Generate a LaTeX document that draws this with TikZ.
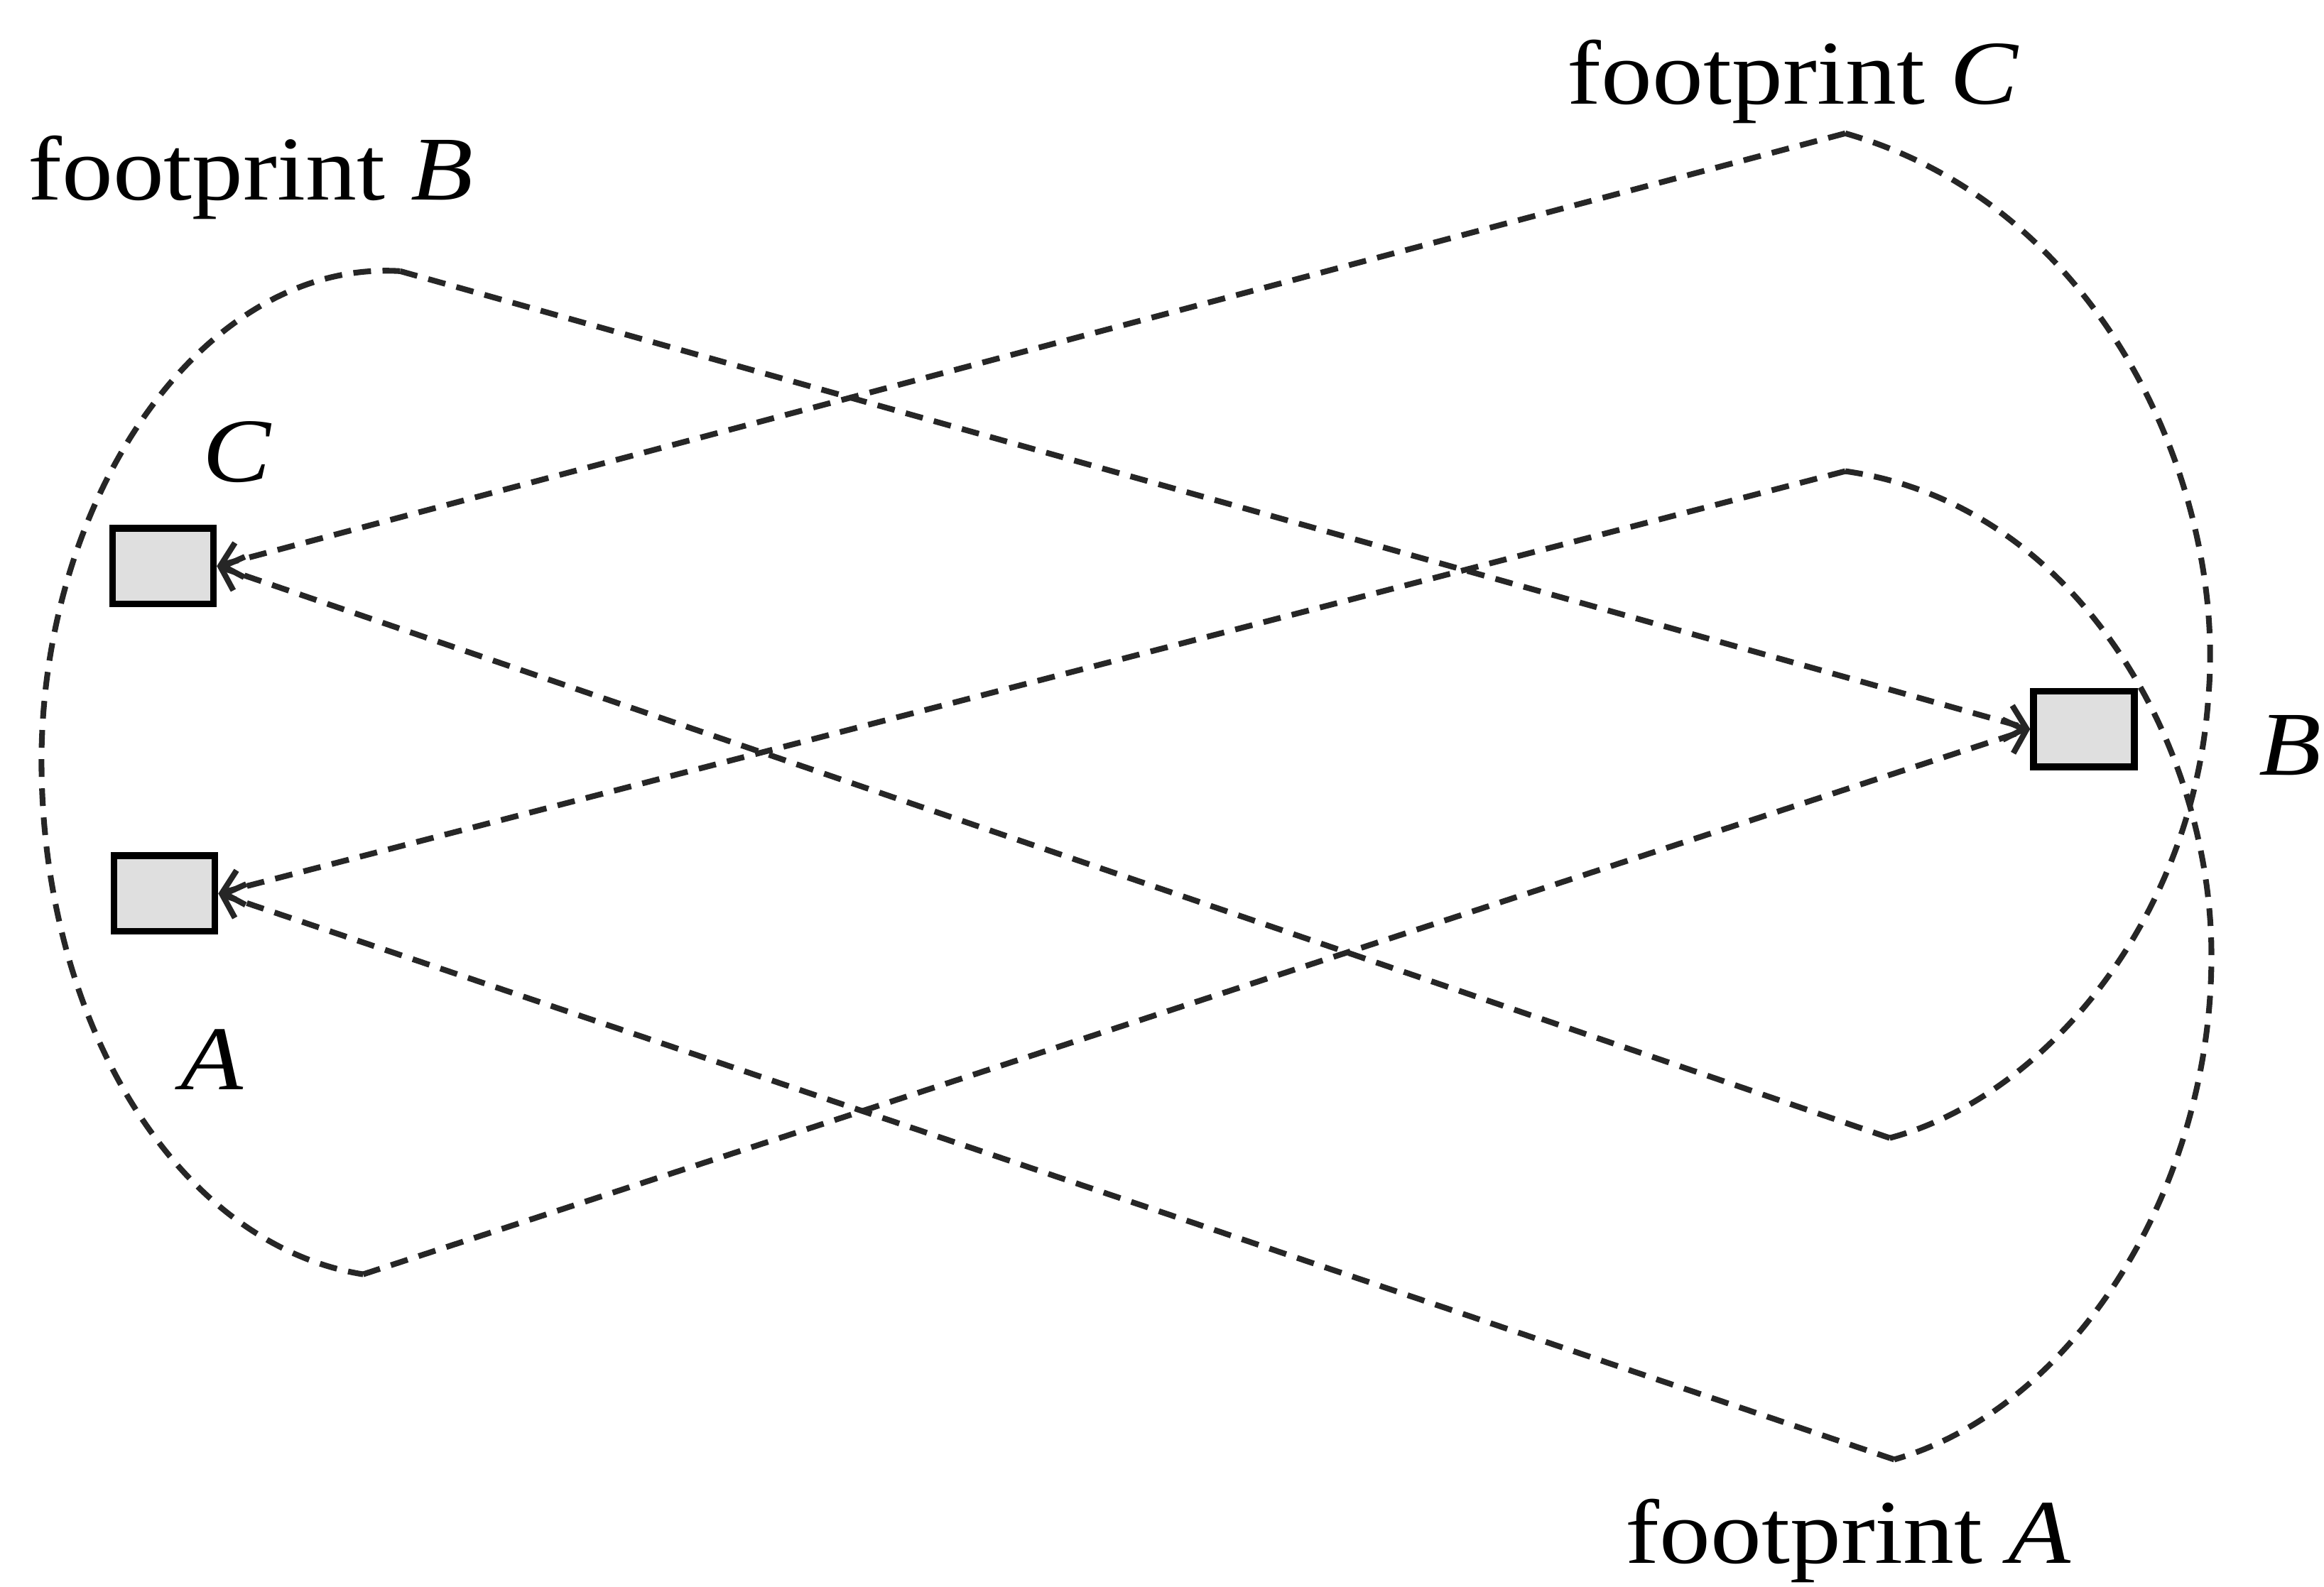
\documentclass[tikz,border=0pt]{standalone}
\usepackage{fontspec}
\setmainfont{Liberation Serif}
\usetikzlibrary{arrows.meta}

\begin{document}
\begin{tikzpicture}[>={Straight Barb[length=1.3mm,width=2.4mm]},
  fp/.style={line width=1.1pt,dash pattern=on 3.4pt off 2.2pt,black!85},
  sat/.style={draw,line width=1.3pt,fill=gray!25,minimum width=0.68cm,minimum height=0.51cm,inner sep=0pt},
  lbl/.style={font=\fontsize{17.5}{20}\selectfont,xscale=1.12}]
\useasboundingbox (0,0) rectangle (15.68,-10.71);
% satellites
\node[sat] (C) at (1.10,-3.82) {};
\node[sat] (A) at (1.11,-6.03) {};
\node[sat] (B) at (14.06,-4.92) {};
\node[lbl] (Clbl) at (1.60,-3.05) {\textit{C}};
\node[lbl] (Albl) at (1.43,-7.15) {\textit{A}};
\node[lbl,anchor=east,inner sep=0pt] (Blbl) at (15.67,-5.03) {\textit{B}};
% footprint corners
\coordinate (ctop) at (12.45,-0.90);
\coordinate (cbot) at (12.75,-7.68);
\coordinate (atop) at (12.45,-3.18);
\coordinate (abot) at (12.78,-9.85);
\coordinate (btop) at (2.70,-1.83);
\coordinate (bbot) at (2.45,-8.60);
% footprint C
\draw[fp,->] (ctop) -- (C.east);
\draw[fp,->] (cbot) -- (C.east);
\draw[fp] (ctop) .. controls (14.20,-1.40) and (15.02,-3.30) .. (14.90,-4.70)
  .. controls (14.80,-6.20) and (13.80,-7.40) .. (cbot);
% footprint A
\draw[fp,->] (atop) -- (A.east);
\draw[fp,->] (abot) -- (A.east);
\draw[fp] (atop) .. controls (14.00,-3.40) and (14.90,-5.00) .. (14.92,-6.40)
  .. controls (14.94,-8.00) and (14.00,-9.50) .. (abot);
% footprint B
\draw[fp,->] (btop) -- (B.west);
\draw[fp,->] (bbot) -- (B.west);
\draw[fp] (btop) .. controls (1.40,-1.75) and (0.30,-3.30) .. (0.28,-5.10)
  .. controls (0.27,-6.90) and (1.20,-8.40) .. (bbot);
\node[lbl] (fpB) at (1.69,-1.20) {footprint \textit{B}};
\node[lbl] (fpC) at (12.10,-0.55) {footprint \textit{C}};
\node[lbl] (fpA) at (12.47,-10.40) {footprint \textit{A}};
\end{tikzpicture}
\end{document}
